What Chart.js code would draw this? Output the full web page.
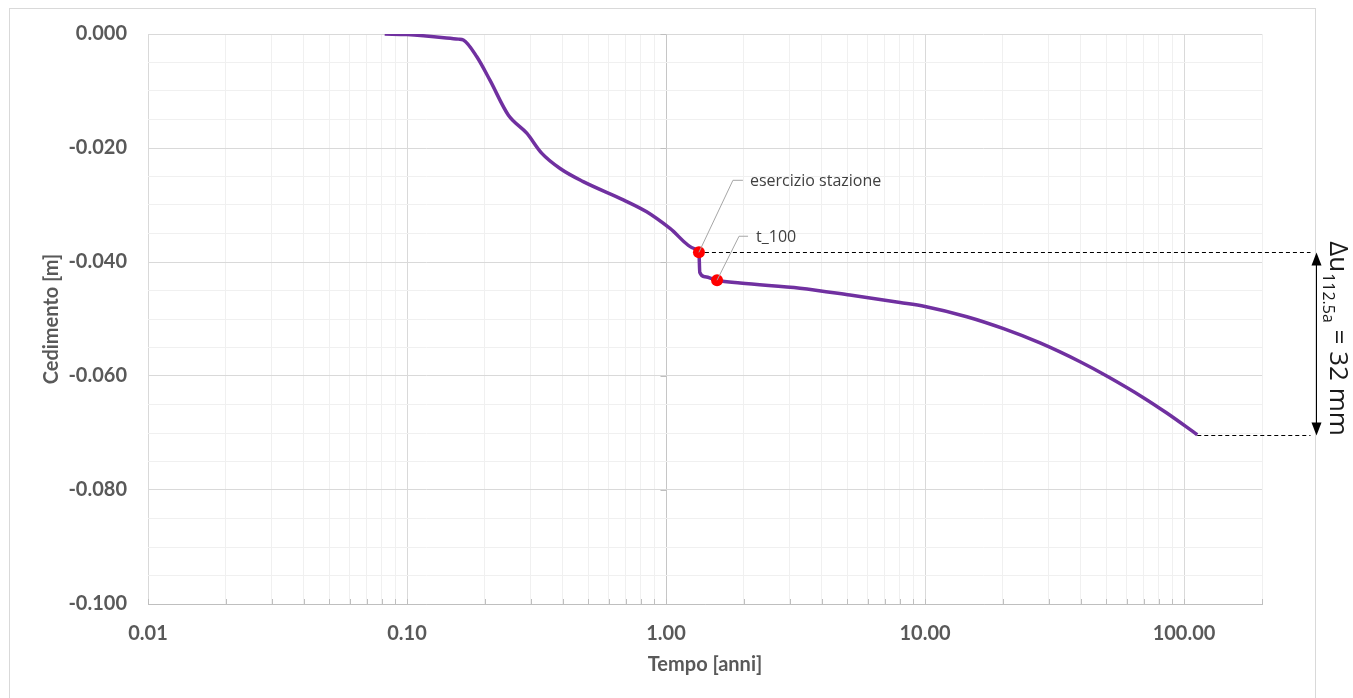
<!DOCTYPE html>
<html>
<head>
<meta charset="utf-8">
<script src="https://cdn.jsdelivr.net/npm/chart.js@4"></script>
<style>
  html, body { margin: 0; padding: 0; background: #fff; }
  canvas { display: block; }
</style>
</head>
<body>
<canvas id="cedChart" width="1353" height="698"></canvas>
<script>
// settlement curve (time in years, settlement in m)
const times = [0.082, 0.10, 0.158, 0.165, 0.186, 0.209, 0.246, 0.290, 0.331, 0.390, 0.479, 0.684,
  0.842, 1.036, 1.294, 1.34, 1.35, 1.415, 1.574, 1.93, 3.29, 5.13, 8.01, 10.0, 14.5, 20.1, 27.8,
  39.7, 50.3, 69.7, 85.8, 112.5];
const settlement = [0, -0.0001, -0.0009, -0.00105, -0.0040, -0.0081, -0.0142, -0.0174, -0.0209,
  -0.0236, -0.0259, -0.0291, -0.0312, -0.0341, -0.0377, -0.0383, -0.0418, -0.0426, -0.0432,
  -0.0437, -0.0446, -0.0458, -0.0471, -0.0478, -0.0496, -0.0517, -0.0542, -0.0575, -0.0600,
  -0.0638, -0.0665, -0.0703];

// highlighted moments
const markerTimes = [1.34, 1.574];
const markerSettlement = [-0.0383, -0.0432];
const markerLabels = ['esercizio stazione', 't_100'];

// axes
const xDecades = [0.01, 0.1, 1, 10, 100];
const xMax = 200;
const yMin = -0.1;
const yMax = 0;
const yMajorStep = 0.02;
const yMinorStep = 0.005;

const lastIdx = times.length - 1;
const deltaMm = Math.round((markerSettlement[0] - settlement[lastIdx]) * 1000);

const isDecade = v => {
  const l = Math.log10(v);
  return Math.abs(l - Math.round(l)) < 1e-6;
};
const isYMajor = v => Math.round(-v / yMinorStep) % Math.round(yMajorStep / yMinorStep) === 0;

const tickFont = { family: 'Lato', size: 20, weight: 'bold' };
const grey = '#595959';

const extras = {
  id: 'extras',
  beforeDraw(chart) {
    const ctx = chart.ctx;
    ctx.save();
    ctx.fillStyle = '#fff';
    ctx.fillRect(0, 0, chart.width, chart.height);
    ctx.strokeStyle = '#D9D9D9';
    ctx.lineWidth = 1;
    ctx.strokeRect(9.5, 8.5, 1306, 700);
    ctx.restore();
  },
  beforeDatasetsDraw(chart) {
    const ctx = chart.ctx;
    const xs = chart.scales.x, ys = chart.scales.y;
    const area = chart.chartArea;
    ctx.save();
    ctx.strokeStyle = '#BFBFBF';
    ctx.lineWidth = 1;
    // small tick marks on the time axis
    xs.ticks.forEach(t => {
      const px = Math.round(xs.getPixelForValue(t.value)) + 0.5;
      ctx.beginPath();
      ctx.moveTo(px, area.bottom);
      ctx.lineTo(px, area.bottom - 5);
      ctx.stroke();
    });
    // vertical axis crosses at t = 1
    const ax = Math.round(xs.getPixelForValue(1)) + 0.5;
    ys.ticks.forEach(t => {
      if (!isYMajor(t.value)) return;
      const py = Math.round(ys.getPixelForValue(t.value)) + 0.5;
      ctx.beginPath();
      ctx.moveTo(ax - 6, py);
      ctx.lineTo(ax, py);
      ctx.stroke();
    });
    ctx.restore();
  },
  afterDatasetsDraw(chart) {
    const ctx = chart.ctx;
    const xs = chart.scales.x, ys = chart.scales.y;
    const p1x = xs.getPixelForValue(markerTimes[0]);
    const p1y = ys.getPixelForValue(markerSettlement[0]);
    const p2x = xs.getPixelForValue(markerTimes[1]);
    const p2y = ys.getPixelForValue(markerSettlement[1]);
    const ex = xs.getPixelForValue(times[lastIdx]);
    const ey = ys.getPixelForValue(settlement[lastIdx]);

    ctx.save();
    // leader lines and labels
    ctx.strokeStyle = '#A6A6A6';
    ctx.lineWidth = 1;
    const leaders = [
      { x: p1x, y: p1y, dx: 34, dy: -72, hx: 44, tx: 51 },
      { x: p2x, y: p2y, dx: 22, dy: -44, hx: 31, tx: 39 }
    ];
    ctx.font = '16px "Open Sans"';
    ctx.fillStyle = '#404040';
    ctx.textBaseline = 'middle';
    ctx.textAlign = 'left';
    leaders.forEach((l, i) => {
      ctx.beginPath();
      ctx.moveTo(l.x, l.y);
      ctx.lineTo(l.x + l.dx, l.y + l.dy);
      ctx.lineTo(l.x + l.hx, l.y + l.dy);
      ctx.stroke();
      ctx.fillText(markerLabels[i], l.x + l.tx, l.y + l.dy + 1);
    });

    // dashed reference lines
    const arrowX = 1316.5;
    ctx.strokeStyle = '#000';
    ctx.setLineDash([4, 3]);
    [[p1x + 6, p1y], [ex, ey]].forEach(([sx, sy]) => {
      const yy = Math.round(sy) + 0.5;
      ctx.beginPath();
      ctx.moveTo(sx, yy);
      ctx.lineTo(arrowX - 6, yy);
      ctx.stroke();
    });
    ctx.setLineDash([]);

    // double arrow
    const ya = Math.round(p1y) + 0.5, yb = Math.round(ey) + 0.5;
    ctx.beginPath();
    ctx.moveTo(arrowX, ya + 10);
    ctx.lineTo(arrowX, yb - 10);
    ctx.stroke();
    ctx.fillStyle = '#000';
    ctx.beginPath();
    ctx.moveTo(arrowX, ya);
    ctx.lineTo(arrowX - 5, ya + 13);
    ctx.lineTo(arrowX + 5, ya + 13);
    ctx.closePath();
    ctx.fill();
    ctx.beginPath();
    ctx.moveTo(arrowX, yb);
    ctx.lineTo(arrowX - 5, yb - 13);
    ctx.lineTo(arrowX + 5, yb - 13);
    ctx.closePath();
    ctx.fill();

    // rotated annotation
    const main1 = '\u0394u';
    const sub = String(times[lastIdx]) + 'a';
    const main2 = ' = ' + deltaMm + ' mm';
    const mainFont = '26px "Open Sans"';
    const subFont = '16px "Open Sans"';
    ctx.font = mainFont;
    const w1 = ctx.measureText(main1).width;
    const w2 = ctx.measureText(main2).width;
    ctx.font = subFont;
    const ws = ctx.measureText(sub).width;
    const total = w1 + ws + w2;
    ctx.translate(1330, (ya + yb) / 2 - 6);
    ctx.rotate(Math.PI / 2);
    ctx.fillStyle = '#1A1A1A';
    ctx.textAlign = 'left';
    ctx.textBaseline = 'alphabetic';
    let x0 = -total / 2;
    ctx.font = mainFont;
    ctx.fillText(main1, x0, 0);
    ctx.font = subFont;
    ctx.fillText(sub, x0 + w1 + 1, 7);
    ctx.font = mainFont;
    ctx.fillText(main2, x0 + w1 + ws + 1, 0);
    ctx.restore();
  }
};

new Chart(document.getElementById('cedChart'), {
  type: 'scatter',
  data: {
    datasets: [
      {
        label: 'punti',
        data: markerTimes.map((t, i) => ({ x: t, y: markerSettlement[i] })),
        pointRadius: 6,
        pointBackgroundColor: '#FF0000',
        pointBorderWidth: 0,
        showLine: false,
        order: 0
      },
      {
        label: 'Cedimento',
        data: times.map((t, i) => ({ x: t, y: settlement[i] })),
        showLine: true,
        borderColor: '#7030A0',
        borderWidth: 3.5,
        pointRadius: 0,
        cubicInterpolationMode: 'monotone',
        order: 1
      }
    ]
  },
  options: {
    responsive: false,
    animation: false,
    layout: { padding: { left: 36, right: 91, top: 34, bottom: 17 } },
    plugins: {
      legend: { display: false },
      tooltip: { enabled: false }
    },
    scales: {
      x: {
        type: 'logarithmic',
        min: xDecades[0],
        max: xMax,
        afterBuildTicks(scale) {
          const ticks = [];
          xDecades.forEach(d => {
            for (let k = 1; k <= 9; k++) {
              const v = d * k;
              if (v <= xMax * 1.0001) ticks.push({ value: v });
            }
          });
          scale.ticks = ticks;
        },
        afterFit(scale) { scale.height = 77; },
        grid: {
          drawTicks: false,
          color: c => {
            const v = c.tick.value;
            if (isDecade(v)) return Math.abs(v - 1) < 1e-9 ? '#C6C6C6' : '#D9D9D9';
            return '#F0F0F0';
          }
        },
        border: { color: '#BFBFBF' },
        ticks: {
          autoSkip: false,
          maxRotation: 0,
          padding: 18,
          color: grey,
          font: tickFont,
          callback: v => isDecade(v) ? Number(v).toFixed(2) : ''
        },
        title: {
          display: true,
          text: 'Tempo [anni]',
          color: grey,
          font: tickFont,
          padding: 4
        }
      },
      y: {
        type: 'linear',
        min: yMin,
        max: yMax,
        afterFit(scale) { scale.width = 112; },
        grid: {
          drawTicks: false,
          color: c => isYMajor(c.tick.value) ? '#D9D9D9' : '#F0F0F0'
        },
        border: { display: false },
        ticks: {
          stepSize: yMinorStep,
          autoSkip: false,
          padding: 21,
          color: grey,
          font: tickFont,
          callback: v => isYMajor(v) ? Number(v).toFixed(3) : ''
        },
        title: {
          display: true,
          text: 'Cedimento [m]',
          color: grey,
          font: tickFont,
          padding: 4
        }
      }
    }
  },
  plugins: [extras]
});
</script>
</body>
</html>
